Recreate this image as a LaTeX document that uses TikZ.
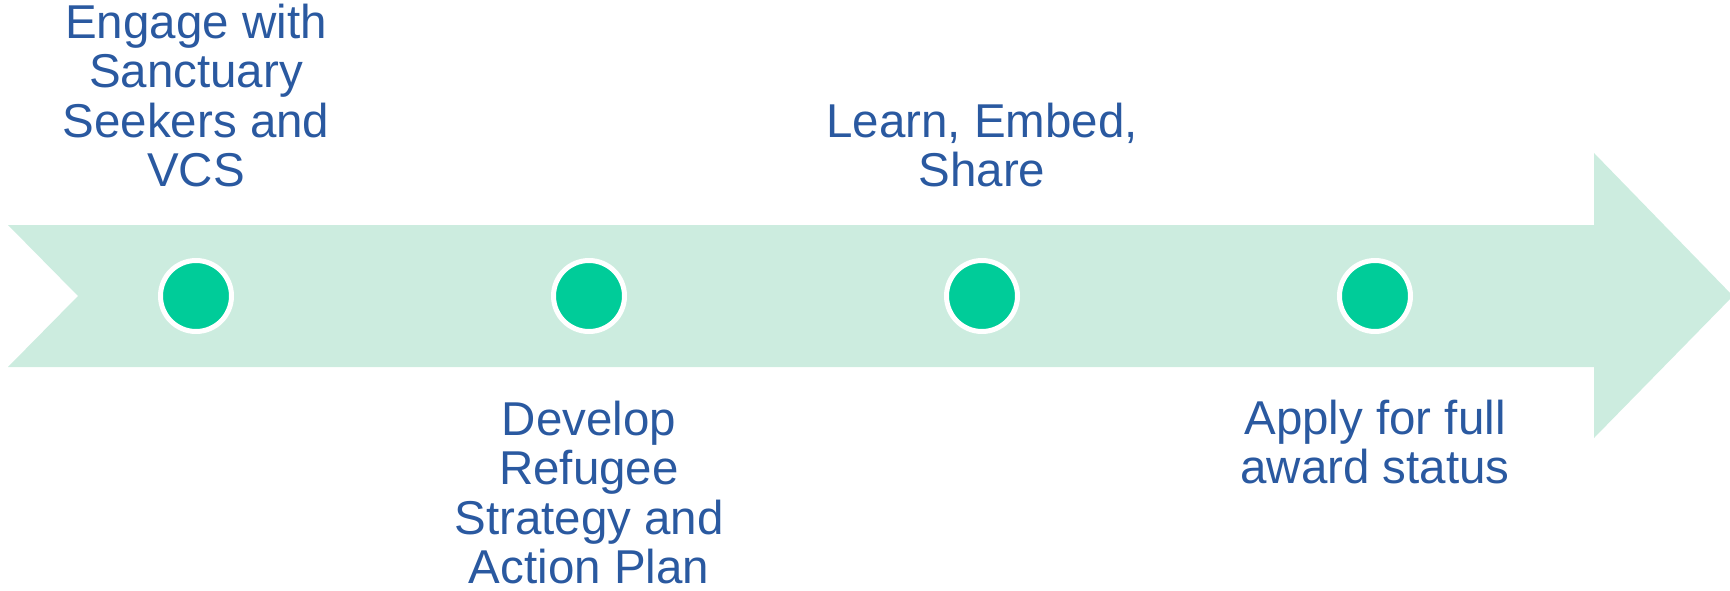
\documentclass[tikz,border=0pt]{standalone}
\usepackage{fontspec}
\setmainfont{Liberation Sans}
\definecolor{band}{HTML}{CCECDF}
\definecolor{dot}{HTML}{00CC99}
\definecolor{txt}{HTML}{2A59A0}
\begin{document}
\begin{tikzpicture}[x=1pt,y=-1pt,
  milestone/.style={circle,fill=dot,draw=white,line width=5pt,minimum size=71pt,inner sep=0pt},
  label/.style={text=txt,align=center,inner sep=0pt,font=\fontsize{47.5}{49.2}\selectfont}]
\useasboundingbox (0,0) rectangle (1730,591);
\fill[band] (8,225) -- (1594,225) -- (1594,153) -- (1733,296) -- (1594,438) -- (1594,367) -- (8,367) -- (78,296) -- cycle;
\node[milestone] (c1) at (196,296) {};
\node[milestone] (c2) at (589,296) {};
\node[milestone] (c3) at (982,296) {};
\node[milestone] (c4) at (1375,296) {};
\node[label,anchor=south] (t1) at (196,187) {Engage with\\Sanctuary\\Seekers and\\VCS};
\node[label,anchor=north] (t2) at (589,401) {Develop\\Refugee\\Strategy and\\Action Plan};
\node[label,anchor=south] (t3) at (982,187) {Learn, Embed,\\Share};
\node[label,anchor=north] (t4) at (1375,400) {Apply for full\\award status};
\end{tikzpicture}
\end{document}
